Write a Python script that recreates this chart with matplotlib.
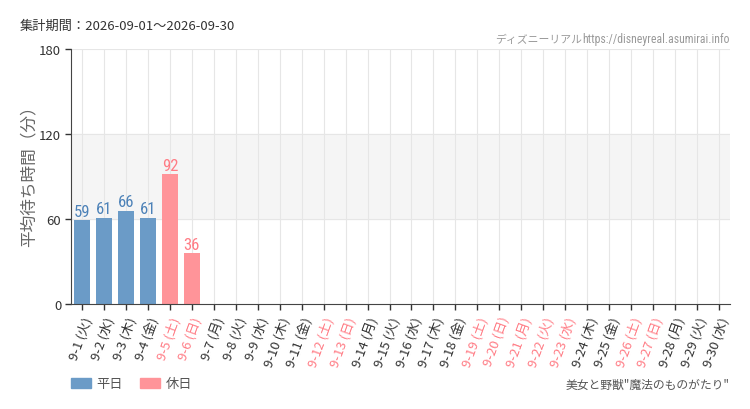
import matplotlib
matplotlib.use("Agg")
import matplotlib.pyplot as plt
from matplotlib.patches import Patch

plt.rcParams['font.family'] = ['Noto Sans CJK JP', 'DejaVu Sans']

days = [f"9-{d}" for d in range(1, 31)]
weekdays = ["火", "水", "木", "金", "土", "日", "月"] * 5
weekdays = weekdays[:30]
holidays = [5, 6, 12, 13, 19, 20, 21, 22, 23, 26, 27]
values = [59, 61, 66, 61, 92, 36] + [None] * 24
yticks = [0, 60, 120, 180]

blue = "#6b9bc7"
pink = "#ff9499"
blue_txt = "#4d82b8"
pink_txt = "#ff7c85"
narrow = ['Roboto Condensed', 'Open Sans Condensed', 'Liberation Sans Narrow', 'Noto Sans', 'DejaVu Sans']

fig = plt.figure(figsize=(7.5, 4.1), dpi=100)
ax = fig.add_axes([71/750, 1-305/410, 659/750, 255/410])

n = len(days)
xs = list(range(n))
ax.axhspan(60, 120, color="#f5f5f5", zorder=0)
for x in xs:
    ax.axvline(x, color="#e6e6e6", lw=0.8, zorder=0.5)
for y in yticks[1:]:
    ax.axhline(y, color="#e6e6e6", lw=0.8, zorder=0.5)

for i, v in enumerate(values):
    if v is None:
        continue
    hol = (i + 1) in holidays
    ax.bar(i, v, width=0.7, color=pink if hol else blue, zorder=2)
    ax.text(i, v + 0.8, str(v), ha="center", va="bottom",
            fontsize=12, color=pink_txt if hol else blue_txt,
            family=narrow, fontstretch='condensed', zorder=3)

ax.set_xlim(-0.5, n - 0.5)
ax.set_ylim(0, 180)
ax.set_yticks(yticks)
ax.set_yticklabels([str(y) for y in yticks], fontsize=9.5, color="#333333")
ax.set_xticks(xs)
labels = [f"{d} ({w})" for d, w in zip(days, weekdays)]
ax.set_xticklabels(labels, rotation=70, ha="right", rotation_mode="anchor", fontsize=9.5)
for i, t in enumerate(ax.get_xticklabels()):
    t.set_color(pink_txt if (i + 1) in holidays else "#333333")
ax.tick_params(axis="both", length=4, color="#333333", width=1)
ax.tick_params(axis="y", pad=3)
for s in ["top", "right"]:
    ax.spines[s].set_visible(False)
ax.spines["left"].set_color("#444444")
ax.spines["bottom"].set_color("#444444")
ax.set_ylabel("平均待ち時間（分）", fontsize=12, color="#666666")
ax.yaxis.set_label_coords(-(71-38)/659, 0.52)

fig.text(20/750, 1-26/410, "集計期間：2026-09-01～2026-09-30", fontsize=9.5, color="#333333", va="center")
fig.text(730/750, 1-40/410, "https://disneyreal.asumirai.info", fontsize=8.5,
         color="#999999", ha="right", va="center",
         family=narrow, fontstretch='condensed')
fig.text(582/750, 1-40/410, "ディズニーリアル", fontsize=7.8,
         color="#999999", ha="right", va="center")
fig.text(730/750, 1-385/410, "美女と野獣\"魔法のものがたり\"", fontsize=8.5, color="#555555",
         ha="right", va="center")

handles = [Patch(color=blue, label="平日"), Patch(color=pink, label="休日")]
fig.legend(handles=handles, loc="center left", bbox_to_anchor=(59/750, 1-385/410),
           ncol=2, frameon=False, fontsize=9.5, handlelength=1.5, handleheight=0.85,
           columnspacing=1.3, handletextpad=0.45, labelcolor="#555555")

fig.savefig("out.png", dpi=100)
